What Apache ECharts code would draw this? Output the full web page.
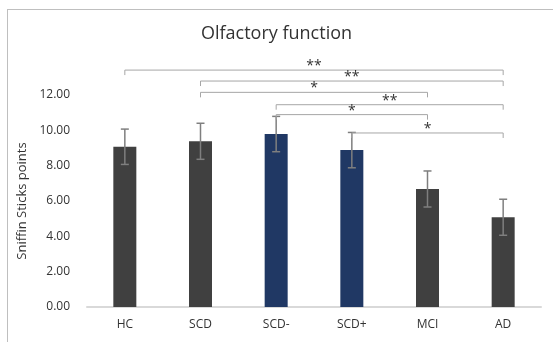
<!DOCTYPE html>
<html lang="en">
<head>
    <meta charset="UTF-8">
    <title>Olfactory function</title>
    <script src="https://cdn.jsdelivr.net/npm/echarts@6/dist/echarts.min.js"></script>
    <style>
        html, body { margin: 0; padding: 0; background: #fff; }
        #frame {
            position: absolute; left: 7px; top: 9px; width: 546px; height: 333px;
            border-top: 1px solid #bfbfbf; border-left: 1px solid #bfbfbf;
        }
        #chart { position: absolute; left: 0; top: 0; width: 553px; height: 342px; }
    </style>
</head>
<body>
    <div id="frame"></div>
    <div id="chart"></div>
<script>
    // groups and mean / sd of Sniffin Sticks points
    var groups = ['HC', 'SCD', 'SCD-', 'SCD+', 'MCI', 'AD'];
    var means = [9.07, 9.38, 9.79, 8.88, 6.68, 5.08];
    var sds = [1.0, 1.02, 1.0, 1.0, 1.02, 1.02];
    var barColors = ['#404040', '#404040', '#203864', '#203864', '#404040', '#404040'];
    var yTicks = [0, 2, 4, 6, 8, 10, 12];

    // significance brackets: from group, to group, height (axis units), mark
    var bracketFrom = [0, 1, 1, 2, 2, 3];
    var bracketTo = [5, 5, 4, 5, 4, 5];
    var bracketLevel = [13.41, 12.79, 12.15, 11.45, 10.89, 9.85];
    var bracketMark = ['**', '**', '*', '**', '*', '*'];

    var font = '"Open Sans", "Liberation Sans", sans-serif';

    var barData = means.map(function (v, i) {
        return { value: v, itemStyle: { color: barColors[i] } };
    });
    var errData = means.map(function (v, i) { return [i, v, sds[i]]; });
    var brData = bracketFrom.map(function (f, i) {
        return [f, bracketTo[i], bracketLevel[i], bracketMark[i]];
    });

    var option = {
        animation: false,
        title: {
            text: 'Olfactory function',
            left: 'center',
            top: 20,
            textStyle: { fontFamily: font, fontSize: 18, fontWeight: 'normal', color: '#333' }
        },
        grid: { left: 87, right: 12, top: 95, bottom: 35 },
        xAxis: {
            type: 'category',
            data: groups,
            axisLine: { lineStyle: { color: '#d9d9d9', width: 2 } },
            axisTick: { show: false },
            axisLabel: { margin: 12, fontFamily: font, fontSize: 12, color: '#333' }
        },
        yAxis: {
            type: 'value',
            min: 0,
            max: 12,
            interval: 2,
            name: 'Sniffin Sticks points',
            nameLocation: 'middle',
            nameGap: 57,
            nameTextStyle: { fontFamily: font, fontSize: 13, color: '#333' },
            axisLine: { show: false },
            axisTick: { show: false },
            splitLine: { show: false },
            axisLabel: {
                margin: 17, fontFamily: font, fontSize: 12, color: '#333',
                formatter: function (v) { return yTicks.indexOf(v) >= 0 ? v.toFixed(2) : ''; }
            }
        },
        series: [{
            type: 'bar',
            data: barData,
            barWidth: 23
        }, {
            type: 'custom',
            data: errData,
            z: 5,
            renderItem: function (params, api) {
                var i = api.value(0), m = api.value(1), s = api.value(2);
                var hi = api.coord([i, m + s]);
                var lo = api.coord([i, m - s]);
                var st = { stroke: '#7f7f7f', lineWidth: 1.5 };
                return {
                    type: 'group',
                    children: [
                        { type: 'line', shape: { x1: hi[0], y1: hi[1], x2: lo[0], y2: lo[1] }, style: st },
                        { type: 'line', shape: { x1: hi[0] - 4, y1: hi[1], x2: hi[0] + 4, y2: hi[1] }, style: st },
                        { type: 'line', shape: { x1: lo[0] - 4, y1: lo[1], x2: lo[0] + 4, y2: lo[1] }, style: st }
                    ]
                };
            }
        }, {
            type: 'custom',
            data: brData,
            clip: false,
            z: 6,
            renderItem: function (params, api) {
                var a = api.coord([api.value(0), api.value(2)]);
                var b = api.coord([api.value(1), api.value(2)]);
                var mark = brData[params.dataIndex][3];
                var st = { stroke: '#a6a6a6', lineWidth: 1, fill: null };
                return {
                    type: 'group',
                    children: [
                        { type: 'polyline', shape: { points: [[a[0], a[1] + 5], [a[0], a[1]], [b[0], b[1]], [b[0], b[1] + 5]] }, style: st },
                        {
                            type: 'text',
                            style: {
                                text: mark, x: (a[0] + b[0]) / 2, y: a[1] + 3,
                                align: 'center', verticalAlign: 'bottom',
                                font: '14px ' + font, fill: '#333'
                            }
                        }
                    ]
                };
            }
        }]
    };

    var myChart = echarts.init(document.getElementById('chart'));
    myChart.setOption(option);
</script>
</body>
</html>
